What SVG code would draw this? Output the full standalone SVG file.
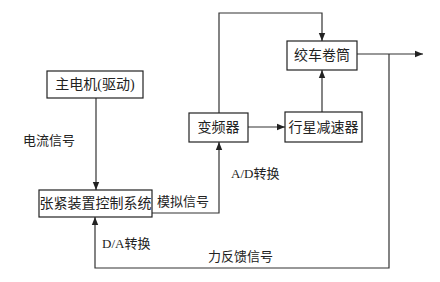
<svg xmlns="http://www.w3.org/2000/svg" width="440" height="282" viewBox="0 0 440 282">
<style>
.box{fill:#fff;stroke:#222;stroke-width:1.2}
.ln{fill:none;stroke:#333;stroke-width:1.2}
text{font-family:"Liberation Serif","Noto Sans CJK SC",serif;font-size:13px;fill:#222}
.c{text-anchor:middle;dominant-baseline:central}
</style>
<defs>
<marker id="ah" viewBox="0 0 10 10" refX="10" refY="5" markerWidth="8" markerHeight="8" markerUnits="userSpaceOnUse" orient="auto">
<path d="M0,1 L10,5 L0,9 Z" fill="#222"/>
</marker>
</defs>
<rect width="440" height="282" fill="#fff"/>
<g id="connectors">
<path class="ln" d="M96,98 V190" marker-end="url(#ah)"/>
<path class="ln" d="M219,113 V13 H322 V41" marker-end="url(#ah)"/>
<path class="ln" d="M152,213 H219 V142" marker-end="url(#ah)"/>
<path class="ln" d="M248,127 H285" marker-end="url(#ah)"/>
<path class="ln" d="M322,112 V70" marker-end="url(#ah)"/>
<path class="ln" d="M357,54 H423" marker-end="url(#ah)"/>
<path class="ln" d="M389,54 V268 H95 V217" marker-end="url(#ah)"/>
<text x="23" y="140" dominant-baseline="central">电流信号</text>
<text x="157" y="201" dominant-baseline="central">模拟信号</text>
<text x="231" y="173" dominant-baseline="central">A/D转换</text>
<text x="102" y="243" dominant-baseline="central">D/A转换</text>
<text x="208" y="256" dominant-baseline="central">力反馈信号</text>
</g>
<g id="motor">
<rect class="box" x="47" y="71" width="96" height="27"/>
<text class="c" x="95" y="84.5" style="font-size:14px">主电机(驱动)</text>
</g>
<g id="tension">
<rect class="box" x="39" y="190" width="113" height="27"/>
<text class="c" x="95.5" y="203.5" style="font-size:14px">张紧装置控制系统</text>
</g>
<g id="inverter">
<rect class="box" x="189" y="113" width="59" height="29"/>
<text class="c" x="218.5" y="127.5" style="font-size:14px">变频器</text>
</g>
<g id="reducer">
<rect class="box" x="285" y="112" width="77" height="30"/>
<text class="c" x="323.5" y="127" style="font-size:14px">行星减速器</text>
</g>
<g id="drum">
<rect class="box" x="287" y="41" width="70" height="29"/>
<text class="c" x="322" y="55.5" style="font-size:14px">绞车卷筒</text>
</g>
</svg>
